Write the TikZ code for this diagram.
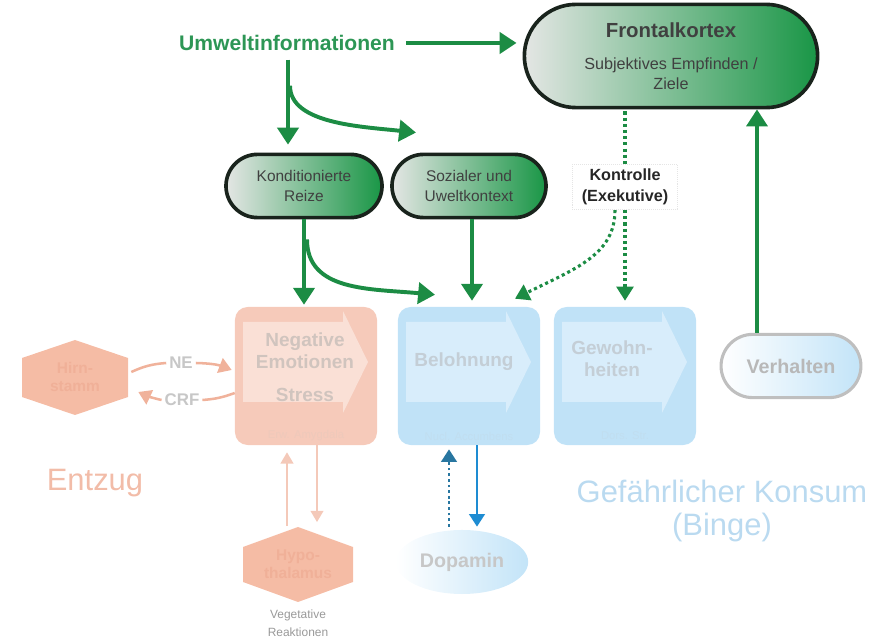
\documentclass[tikz,border=0pt]{standalone}
\usepackage{fontspec}
\setmainfont{Liberation Sans}
\usepackage{tikz}
\usetikzlibrary{arrows.meta,calc,shapes.misc,shapes.geometric}
\definecolor{umgreen}{RGB}{28,140,68}
\definecolor{umtext}{RGB}{45,150,85}
\definecolor{pilldark}{RGB}{25,35,28}
\definecolor{pillgreen}{RGB}{25,150,70}
\definecolor{pillgray}{RGB}{228,230,228}
\definecolor{salbox}{RGB}{246,202,186}
\definecolor{salin}{RGB}{250,224,214}
\definecolor{saltext}{RGB}{208,196,190}
\definecolor{salline}{RGB}{240,178,155}
\definecolor{salhex}{RGB}{245,188,165}
\definecolor{salhextext}{RGB}{240,176,152}
\definecolor{bluebox}{RGB}{192,226,247}
\definecolor{bluein}{RGB}{216,237,251}
\definecolor{bluetext}{RGB}{196,206,214}
\definecolor{bingeblue}{RGB}{186,218,240}
\definecolor{entzugsal}{RGB}{242,188,168}
\definecolor{dopadot}{RGB}{40,118,160}
\definecolor{dopaline}{RGB}{30,140,210}
\definecolor{verhblue}{RGB}{195,228,248}
\newcommand{\innerarrow}[3]{\fill[#3] (#1-63,#2-54) -- (#1+37,#2-54) -- (#1+37,#2-65) -- (#1+62,#2-14) -- (#1+37,#2+37) -- (#1+37,#2+26) -- (#1-63,#2+26) -- cycle;}

\begin{document}
\begin{tikzpicture}[x=0.025cm,y=-0.025cm,
  pill/.style={rounded rectangle,draw=pilldark,line width=2.6pt,left color=pillgray,right color=pillgreen,
    inner sep=0pt,align=center,text=black!75,font=\fontsize{11}{14}\selectfont},
  stage/.style={rounded corners=9pt,inner sep=0pt,minimum width=3.55cm,minimum height=3.45cm},
  stagetext/.style={align=center,font=\bfseries\fontsize{13.5}{15.6}\selectfont},
  sublabel/.style={font=\fontsize{8}{9}\selectfont},
  hextext/.style={align=center,text=salhextext,font=\bfseries\fontsize{11}{13}\selectfont},
  grarrow/.style={draw=umgreen,line width=2.8pt,-{Triangle[width=15pt,length=12pt]}},
  grdots/.style={draw=umgreen,line width=2.2pt,dash pattern=on 2.2pt off 2.2pt,-{Triangle[width=12pt,length=10pt]}},
  salarrow/.style={draw=salline,line width=1.8pt,-{Triangle[width=11pt,length=9pt]}},
  salthin/.style={draw=salline!70,line width=1.4pt,-{Triangle[width=9pt,length=8pt]}},
  siglabel/.style={fill=white,text=black!22,font=\bfseries\fontsize{12}{14}\selectfont,inner sep=2pt}]

\useasboundingbox (0,0) rectangle (884,642);

% oben
\node[text=umtext,font=\bfseries\fontsize{15}{18}\selectfont] (umwelt) at (287,43) {Umweltinformationen};
\node[pill,minimum width=7.33cm,minimum height=2.58cm] (frontal) at (671,56)
  {{\bfseries\fontsize{14.5}{17}\selectfont Frontalkortex}\\[9pt]{\fontsize{11.5}{15.5}\selectfont Subjektives Empfinden /}\\{\fontsize{11.5}{15.5}\selectfont Ziele}};
\node[pill,minimum width=3.9cm,minimum height=1.58cm] (kondreize) at (304,186) {Konditionierte\\Reize};
\node[pill,minimum width=3.85cm,minimum height=1.58cm] (kontext) at (469,186) {Sozialer und\\Uweltkontext};
\node[draw=black!10,densely dotted,fill=white,align=center,text=black!85,minimum width=2.63cm,
  font=\bfseries\fontsize{11.5}{15}\selectfont] (kontrolle) at (625,187) {Kontrolle\\(Exekutive)};

% Stufen
\node[stage,fill=salbox] (negativ) at (306,376) {};
\innerarrow{306}{376}{salin}
\node[stagetext,text=saltext] (negtext) at (305,367) {Negative\\Emotionen\\[8pt]Stress};
\node[sublabel,text=salbox!80!saltext] (negsub) at (306,436) {Erw. Amygdala};

\node[stage,fill=bluebox] (belohnung) at (469,376) {};
\innerarrow{469}{376}{bluein}
\node[stagetext,text=bluetext] (beltext) at (464,362) {Belohnung};
\node[sublabel,text=bluebox!80!bluetext] (belsub) at (469,436) {Nucl. Accumbens};

\node[stage,fill=bluebox] (gewohn) at (625,376) {};
\innerarrow{625}{376}{bluein}
\node[stagetext,text=bluetext] (gewtext) at (612,359) {Gewohn-\\heiten};
\node[sublabel,text=bluebox!80!bluetext] (gewsub) at (625,436) {Dors. Str.};

\node[rounded rectangle,draw=black!25,line width=2.2pt,left color=white,right color=verhblue,
  minimum width=3.73cm,minimum height=1.58cm,text=black!28,font=\bfseries\fontsize{14}{16}\selectfont] (verhalten) at (791,366) {Verhalten};
\coordinate (verhtop) at ($(verhalten.north)+(-34,0)$);

% Hexagone
\fill[salhex] (75,340) -- (128,358) -- (128,397) -- (75,415) -- (22,397) -- (22,358) -- cycle;
\node[hextext,minimum width=2.65cm,minimum height=1.9cm] (hirn) at (75,377) {Hirn-\\stamm};
\fill[salhex] (298,527) -- (353,547) -- (353,582) -- (298,602) -- (243,582) -- (243,547) -- cycle;
\node[hextext,minimum width=2.75cm,minimum height=1.88cm] (hypo) at (298,564) {Hypo-\\thalamus};
\node[align=center,text=black!40,font=\fontsize{8.5}{13}\selectfont] (veget) at (298,623) {Vegetative\\Reaktionen};

\node[ellipse,minimum width=3.1cm,minimum height=1.6cm,left color=white,right color=verhblue,
  text=black!22,font=\bfseries\fontsize{14}{16}\selectfont] (dopamin) at (462,562) {Dopamin};

\node[siglabel] (ne) at (181,363) {NE};
\node[siglabel] (crf) at (182,400) {CRF};

\node[text=entzugsal,font=\fontsize{22}{26}\selectfont] (entzug) at (95,483) {Entzug};
\node[align=center,text=bingeblue,font=\fontsize{22}{24}\selectfont] (binge) at (722,511) {Gefährlicher Konsum\\(Binge)};

% Pfeile gruen
\draw[grarrow] ($(umwelt.east)+(6,0)$) -- ($(umwelt.east -| frontal.west)+(-6,0)$);
\draw[grarrow] ($(umwelt.south)+(1,4)$) -- ($(umwelt.south |- kondreize.north)+(1,-8)$);
\draw[grarrow] ($(umwelt.south)+(3,30)$) .. controls +(0,38) and +(-55,-6) .. ($(kontext.north)+(-53,-20)$);
\draw[grarrow] (kondreize.south) -- ($(kondreize.south |- negativ.north)+(0,-2)$);
\draw[grarrow] ($(kondreize.south)+(3,20)$) .. controls +(0,52) and +(-65,-6) .. ($(belohnung.north)+(-34,-12)$);
\draw[grarrow] ($(kontext.south)+(3,0)$) -- ($(kontext.south |- belohnung.north)+(3,-6)$);
\draw[grarrow,line width=2.2pt] (verhtop) -- (verhtop |- frontal.south);
\draw[grdots,-] ($(frontal.south)+(-46,2)$) -- (kontrolle.north);
\draw[grdots] (kontrolle.south) -- ($(kontrolle.south |- gewohn.north)+(0,-6)$);
\draw[grdots] ($(kontrolle.south)+(-10,0)$) .. controls +(0,45) and +(60,-30) .. ($(belohnung.north)+(46,-8)$);

% Pfeile Entzug
\draw[salarrow,-] ($(hirn.east)+(3,-5)$) to[bend left=10] (ne.west);
\draw[salarrow] (ne.east) to[bend left=10] ($(negativ.west)+(-3,-6)$);
\draw[salarrow,-] ($(negativ.west)+(0,17)$) to[bend left=8] (crf.east);
\draw[salarrow] (crf.west) to[bend left=6] ($(hirn.east)+(10,15)$);
\draw[salthin] ($(hypo.north)+(-11,0)$) -- ($(negativ.south)+(-19,7)$);
\draw[salthin] ($(negativ.south)+(11,0)$) -- ($(hypo.north)+(19,-4)$);

% Dopamin
\draw[draw=dopadot,line width=2pt,dash pattern=on 2pt off 2pt,-{Triangle[width=11pt,length=9pt]}] ($(dopamin.north)+(-13,-3)$) -- ($(belohnung.south)+(-20,4)$);
\draw[draw=dopaline,line width=2pt,-{Triangle[width=11pt,length=9pt]}] ($(belohnung.south)+(8,0)$) -- ($(dopamin.north)+(15,-3)$);

\end{tikzpicture}
\end{document}
